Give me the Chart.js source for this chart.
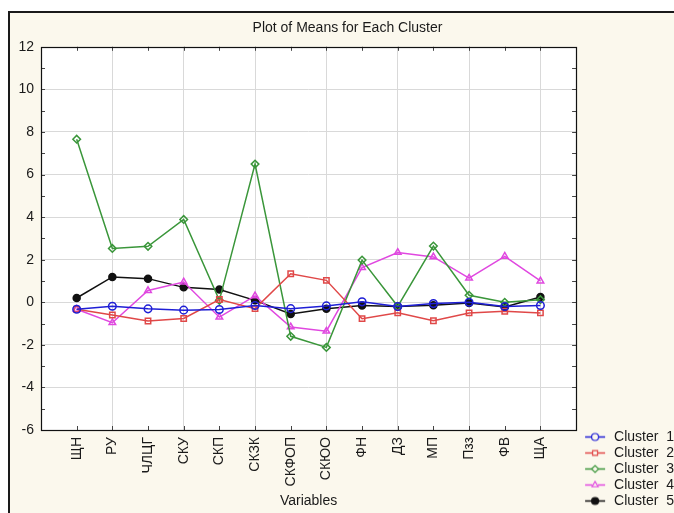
<!DOCTYPE html>
<html>
<head>
<meta charset="utf-8">
<script src="https://cdn.jsdelivr.net/npm/chart.js@4"></script>
<style>
  html, body { margin: 0; padding: 0; background: #ffffff; overflow: hidden; width: 674px; height: 513px; }
  #frame { position: absolute; left: 8px; top: 11px; width: 720px; height: 560px; border: 2px solid #1a1a1a; background: #fbf8ed; }
  #holder { position: absolute; left: 0; top: 0; width: 684px; height: 520px; }
</style>
</head>
<body>
<div id="frame"></div>
<div id="holder"><canvas id="means"></canvas></div>
<script>
//! data---------------------------------------
let variables = ["ЩН", "РУ", "ЧЛЦГ", "СКУ", "СКП", "СКЗК", "СКФОП", "СКЮО", "ФН", "ДЗ", "МП", "Пзз", "ФВ", "ЩА"];
let cluster1 = [-0.33, -0.19, -0.31, -0.37, -0.34, -0.15, -0.30, -0.17, 0.02, -0.20, -0.06, 0.00, -0.20, -0.15];
let cluster2 = [-0.33, -0.60, -0.88, -0.76, 0.13, -0.30, 1.34, 1.03, -0.77, -0.49, -0.87, -0.50, -0.42, -0.50];
let cluster3 = [7.66, 2.53, 2.63, 3.89, 0.09, 6.49, -1.60, -2.12, 1.98, -0.19, 2.64, 0.33, 0.00, 0.12];
let cluster4 = [-0.33, -0.96, 0.55, 0.95, -0.70, 0.30, -1.16, -1.36, 1.63, 2.34, 2.13, 1.13, 2.16, 1.00];
let cluster5 = [0.20, 1.19, 1.11, 0.70, 0.60, 0.09, -0.55, -0.30, -0.15, -0.20, -0.14, -0.04, -0.22, 0.25];
let yTicks = [-6, -4, -2, 0, 2, 4, 6, 8, 10, 12];

let clusterNames = ["Cluster  1", "Cluster  2", "Cluster  3", "Cluster  4", "Cluster  5"];
let clusterColors = ["#1f1fd6", "#e04848", "#3a963a", "#e048e0", "#111111"];
let clusterMarks = ["circle", "rect", "rectRot", "triangle", "circle"];
let clusterFill = ["rgba(0,0,0,0)", "rgba(0,0,0,0)", "rgba(0,0,0,0)", "rgba(0,0,0,0)", "#111111"];
let clusterData = [cluster1, cluster2, cluster3, cluster4, cluster5];

//! points on a linear x axis so there is a full step of room at each end
function toPoints(values) {
  return values.map((v, i) => ({ x: i + 1, y: v }));
}

//! little line + marker pictures for the legend
function legendIcon(i) {
  let c = document.createElement("canvas");
  c.width = 29;
  c.height = 11;
  let g = c.getContext("2d");
  g.strokeStyle = clusterColors[i];
  g.lineWidth = 1.5;
  g.beginPath();
  g.moveTo(7, 5.5);
  g.lineTo(27, 5.5);
  g.stroke();
  //! clear the middle so open markers stay open
  if (i < 4) {
    g.clearRect(14, 3, 6, 5);
  }
  g.fillStyle = clusterFill[i];
  g.lineWidth = 1.2;
  Chart.helpers.drawPoint(g, { pointStyle: clusterMarks[i], radius: 3.5, borderWidth: 1.2, rotation: 0 }, 17, 5.5);
  return c;
}

let datasets = clusterData.map((vals, i) => ({
  label: clusterNames[i],
  data: toPoints(vals),
  borderColor: clusterColors[i],
  backgroundColor: clusterFill[i],
  borderWidth: 1.5,
  pointStyle: clusterMarks[i],
  pointRadius: i === 4 ? 3.5 : 3.8,
  pointBorderWidth: 1.5,
  pointBackgroundColor: clusterFill[i],
  pointBorderColor: clusterColors[i],
  tension: 0,
}));

//! white plot area, frame and small inner tick marks
let plotFrame = {
  id: "plotFrame",
  beforeDraw(chart) {
    let a = chart.chartArea;
    let ctx = chart.ctx;
    ctx.save();
    ctx.fillStyle = "#ffffff";
    ctx.fillRect(a.left, a.top, a.right - a.left, a.bottom - a.top);
    ctx.restore();
  },
  afterDatasetsDraw(chart) {
    let a = chart.chartArea;
    let ctx = chart.ctx;
    let xs = chart.scales.x;
    let ys = chart.scales.y;
    ctx.save();
    ctx.strokeStyle = "#444444";
    ctx.lineWidth = 1;
    ctx.beginPath();
    for (let v = 1; v < 15; v++) {
      let px = Math.round(xs.getPixelForValue(v)) + 0.5;
      ctx.moveTo(px, a.top); ctx.lineTo(px, a.top + 4);
      ctx.moveTo(px, a.bottom); ctx.lineTo(px, a.bottom - 4);
    }
    for (let v = -5; v < 12; v++) {
      let py = Math.round(ys.getPixelForValue(v)) + 0.5;
      ctx.moveTo(a.left, py); ctx.lineTo(a.left + 4, py);
      ctx.moveTo(a.right, py); ctx.lineTo(a.right - 4, py);
    }
    ctx.stroke();
    ctx.strokeStyle = "#111111";
    ctx.lineWidth = 1.2;
    ctx.strokeRect(Math.round(a.left) + 0.5, Math.round(a.top) + 0.5, Math.round(a.right - a.left), Math.round(a.bottom - a.top));
    ctx.restore();
  },
};

let ctxMeans = document.getElementById("means").getContext("2d");
let MeansChart = new Chart(ctxMeans, {
  type: "line",
  data: { datasets: datasets },
  plugins: [plotFrame],
  options: {
    responsive: true,
    maintainAspectRatio: false,
    animation: false,
    devicePixelRatio: 1,
    layout: { padding: { left: 11, top: 20, right: 0, bottom: 10 } },
    font: { family: "'Liberation Sans', Arial, sans-serif" },
    plugins: {
      title: {
        display: true,
        text: "Plot of Means for Each Cluster",
        color: "#1a1a1a",
        font: { size: 14, weight: "normal", family: "'Liberation Sans', Arial, sans-serif" },
        padding: { top: 0, bottom: 10 },
      },
      legend: {
        position: "right",
        align: "end",
        fullSize: true,
        labels: {
          color: "#1a1a1a",
          font: { size: 14, family: "'Liberation Sans', Arial, sans-serif" },
          usePointStyle: true,
          pointStyleWidth: 29,
          padding: 2,
          generateLabels: (chart) =>
            chart.data.datasets.map((ds, i) => ({
              text: ds.label,
              pointStyle: legendIcon(i),
              fillStyle: clusterFill[i],
              strokeStyle: clusterColors[i],
              lineWidth: 0,
              hidden: false,
              datasetIndex: i,
              fontColor: "#1a1a1a",
            })),
        },
      },
      tooltip: { enabled: false },
    },
    scales: {
      x: {
        type: "linear",
        min: 0,
        max: 15,
        afterBuildTicks: (s) => {
          s.ticks = [];
          for (let v = 0; v <= 15; v++) s.ticks.push({ value: v });
        },
        afterFit: (s) => { s.height = 80; },
        grid: {
          drawTicks: false,
          color: (c) => (c.tick && c.tick.value % 2 === 0 && c.tick.value > 0 ? "#d9d9d9" : "rgba(0,0,0,0)"),
        },
        border: { display: false },
        ticks: {
          autoSkip: false,
          maxRotation: 90,
          minRotation: 90,
          padding: 7,
          color: "#1a1a1a",
          font: { size: 14, family: "'Liberation Sans', Arial, sans-serif" },
          callback: (v) => variables[v - 1] || "",
        },
        title: {
          display: true,
          text: "Variables",
          color: "#1a1a1a",
          font: { size: 14, family: "'Liberation Sans', Arial, sans-serif" },
          padding: { top: 0, bottom: 0 },
        },
      },
      y: {
        min: -6,
        max: 12,
        afterBuildTicks: (s) => { s.ticks = yTicks.map((v) => ({ value: v })); },
        afterFit: (s) => { s.width = 30; },
        grid: {
          drawTicks: false,
          color: (c) => (c.tick && c.tick.value > -6 && c.tick.value < 12 ? "#d9d9d9" : "rgba(0,0,0,0)"),
        },
        border: { display: false },
        ticks: {
          padding: 7,
          color: "#1a1a1a",
          font: { size: 14, family: "'Liberation Sans', Arial, sans-serif" },
        },
      },
    },
  },
});
</script>
</body>
</html>
